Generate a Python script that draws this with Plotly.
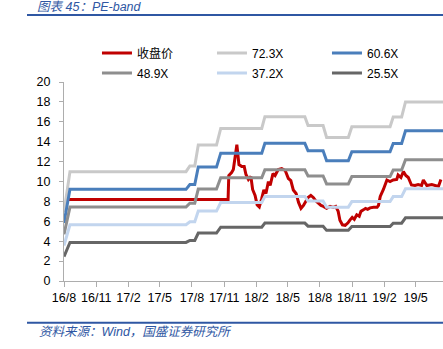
import plotly.graph_objects as go

# ---------------- data ----------------
band_dates = ['2016-08-01', '2016-08-18', '2017-07-15', '2017-07-26', '2017-08-09', '2017-08-19',
              '2017-10-10', '2017-10-22', '2018-02-16', '2018-02-25', '2018-06-19', '2018-06-28',
              '2018-08-10', '2018-08-20', '2018-10-21', '2018-10-31', '2019-02-17', '2019-02-26',
              '2019-03-22', '2019-04-02', '2019-07-18']

pe_723 = [6.94, 10.99, 10.99, 11.57, 11.57, 13.66, 13.66, 15.33, 15.33, 16.51, 16.51, 15.62, 15.62,
          14.42, 14.42, 15.51, 15.51, 16.48, 16.48, 18.0, 18.0]
pe_606 = [5.82, 9.21, 9.21, 9.70, 9.70, 11.45, 11.45, 12.85, 12.85, 13.84, 13.84, 13.09, 13.09,
          12.09, 12.09, 13.0, 13.0, 13.82, 13.82, 15.09, 15.09]
pe_489 = [4.69, 7.43, 7.43, 7.82, 7.82, 9.24, 9.24, 10.37, 10.37, 11.17, 11.17, 10.56, 10.56,
          9.76, 9.76, 10.49, 10.49, 11.15, 11.15, 12.18, 12.18]
pe_372 = [3.57, 5.65, 5.65, 5.95, 5.95, 7.03, 7.03, 7.89, 7.89, 8.50, 8.50, 8.04, 8.04,
          7.42, 7.42, 7.98, 7.98, 8.48, 8.48, 9.26, 9.26]
pe_255 = [2.45, 3.88, 3.88, 4.08, 4.08, 4.82, 4.82, 5.41, 5.41, 5.82, 5.82, 5.51, 5.51,
          5.09, 5.09, 5.47, 5.47, 5.81, 5.81, 6.35, 6.35]

close_dates = ['2016-08-13', '2017-11-12', '2017-11-14', '2017-11-22', '2017-11-27', '2017-12-07',
               '2017-12-13', '2017-12-21', '2017-12-28', '2018-01-02', '2018-01-09', '2018-01-16',
               '2018-01-21', '2018-01-28', '2018-02-03', '2018-02-09', '2018-02-16', '2018-02-22',
               '2018-02-28', '2018-03-07', '2018-03-12', '2018-03-20', '2018-03-26', '2018-04-04',
               '2018-04-14', '2018-04-24', '2018-05-03', '2018-05-10', '2018-05-17', '2018-05-25',
               '2018-06-01', '2018-06-08', '2018-06-15', '2018-06-22', '2018-06-28', '2018-07-06',
               '2018-07-13', '2018-07-19', '2018-07-27', '2018-08-04', '2018-08-11', '2018-08-20',
               '2018-08-30', '2018-09-08', '2018-09-15', '2018-09-22', '2018-09-27', '2018-10-04',
               '2018-10-12', '2018-10-20', '2018-10-26', '2018-11-01', '2018-11-07', '2018-11-14',
               '2018-11-21', '2018-11-26', '2018-12-03', '2018-12-09', '2018-12-15', '2018-12-22',
               '2019-01-01', '2019-01-11', '2019-01-15', '2019-01-20', '2019-01-29', '2019-02-08',
               '2019-02-17', '2019-02-26', '2019-03-08', '2019-03-12', '2019-03-20', '2019-03-27',
               '2019-04-03', '2019-04-10', '2019-04-19', '2019-04-29', '2019-05-08', '2019-05-18',
               '2019-05-23', '2019-06-02', '2019-06-16', '2019-06-25', '2019-07-05', '2019-07-12']
close_price = [8.2, 8.2, 10.6, 10.9, 11.2, 13.7, 11.7, 11.5, 11.5, 10.7, 10.2, 10.5, 9.2, 8.6, 7.65,
               7.45, 8.3, 9.15, 8.8, 10.0, 9.6, 10.8, 10.6, 11.2, 11.3, 11.1, 10.3, 10.1, 9.15, 8.8,
               7.9, 7.3, 7.6, 8.0, 8.4, 8.6, 8.4, 8.1, 7.85, 7.6, 7.5, 7.3, 7.5, 7.4, 7.5, 7.0, 6.1,
               5.65, 5.6, 5.85, 6.15, 6.4, 6.2, 6.65, 6.5, 7.0, 7.15, 7.3, 7.2, 7.35, 7.4, 7.4, 7.6,
               8.5, 9.2, 10.15, 10.0, 10.15, 10.2, 10.65, 10.4, 11.0, 10.6, 10.4, 9.65, 9.6, 9.7,
               9.6, 10.15, 9.6, 9.7, 9.6, 9.5, 10.2]

tick_dates = ['2016-08-01', '2016-11-01', '2017-02-01', '2017-05-01', '2017-08-01', '2017-11-01',
              '2018-02-01', '2018-05-01', '2018-08-01', '2018-11-01', '2019-02-01', '2019-05-01']
tick_labels = ['16/8', '16/11', '17/2', '17/5', '17/8', '17/11', '18/2', '18/5', '18/8', '18/11',
               '19/2', '19/5']

# ---------------- figure ----------------
FONT = 'Liberation Sans, Noto Sans CJK SC, sans-serif'
fig = go.Figure()

series = [
    ('收盘价', close_dates, close_price, '#C00000', 'legend', 1),
    ('72.3X', band_dates, pe_723, '#C9C9C9', 'legend', 2),
    ('60.6X', band_dates, pe_606, '#4A7EBB', 'legend', 3),
    ('48.9X', band_dates, pe_489, '#8E8E8E', 'legend2', 4),
    ('37.2X', band_dates, pe_372, '#C2D5EE', 'legend2', 5),
    ('25.5X', band_dates, pe_255, '#666666', 'legend2', 6),
]
for name, xs, ys, col, lg, rank in series:
    fig.add_trace(go.Scatter(x=xs, y=ys, mode='lines', name=name,
                             line=dict(color=col, width=3),
                             legend=lg, legendrank=rank))

axis_col = '#ADADAD'
leg_common = dict(orientation='h', xanchor='left', yanchor='middle',
                  entrywidth=70, font=dict(size=12, family=FONT), bgcolor='rgba(0,0,0,0)',
                  itemwidth=30, tracegroupgap=0)
fig.update_layout(
    width=443, height=349,
    margin=dict(l=64, r=0, t=82, b=68),
    paper_bgcolor='white', plot_bgcolor='white',
    font=dict(family=FONT, size=12, color='#000000'),
    showlegend=True,
    legend=dict(x=0.087, y=1.146, **leg_common),
    legend2=dict(x=0.087, y=1.045, **leg_common),
    xaxis=dict(type='date', range=['2016-08-01', '2019-07-18'],
               tickvals=tick_dates, ticktext=tick_labels, tickangle=0,
               showgrid=False, zeroline=False,
               showline=True, linecolor=axis_col, linewidth=1,
               ticks='outside', ticklen=5, tickcolor=axis_col,
               tickfont=dict(size=12.5, family=FONT)),
    yaxis=dict(range=[0, 20], tickvals=list(range(0, 21, 2)),
               showgrid=False, zeroline=False,
               showline=True, linecolor=axis_col, linewidth=1,
               ticks='outside', ticklen=4, tickcolor=axis_col,
               ticklabelstandoff=6,
               tickfont=dict(size=12.5, family=FONT)),
)

blue = '#2F57A3'
# header / footer rules (page decoration)
fig.add_shape(type='line', xref='paper', yref='paper', x0=-0.0976, x1=1.0, y0=1.337, y1=1.337,
              line=dict(color=blue, width=2))
fig.add_shape(type='line', xref='paper', yref='paper', x0=-0.0976, x1=1.0, y0=-0.2095, y1=-0.2095,
              line=dict(color=blue, width=2))
fig.add_annotation(text='<i>图表 45：PE-band</i>', xref='paper', yref='paper',
                   x=-0.076, y=1.378, xanchor='left', yanchor='middle', showarrow=False,
                   font=dict(size=12.5, color=blue, family=FONT))
fig.add_annotation(text='<i>资料来源：Wind，国盛证券研究所</i>', xref='paper', yref='paper',
                   x=-0.071, y=-0.255, xanchor='left', yanchor='middle', showarrow=False,
                   font=dict(size=12.5, color=blue, family=FONT))

fig.write_html('out.html', config={'displayModeBar': False})
